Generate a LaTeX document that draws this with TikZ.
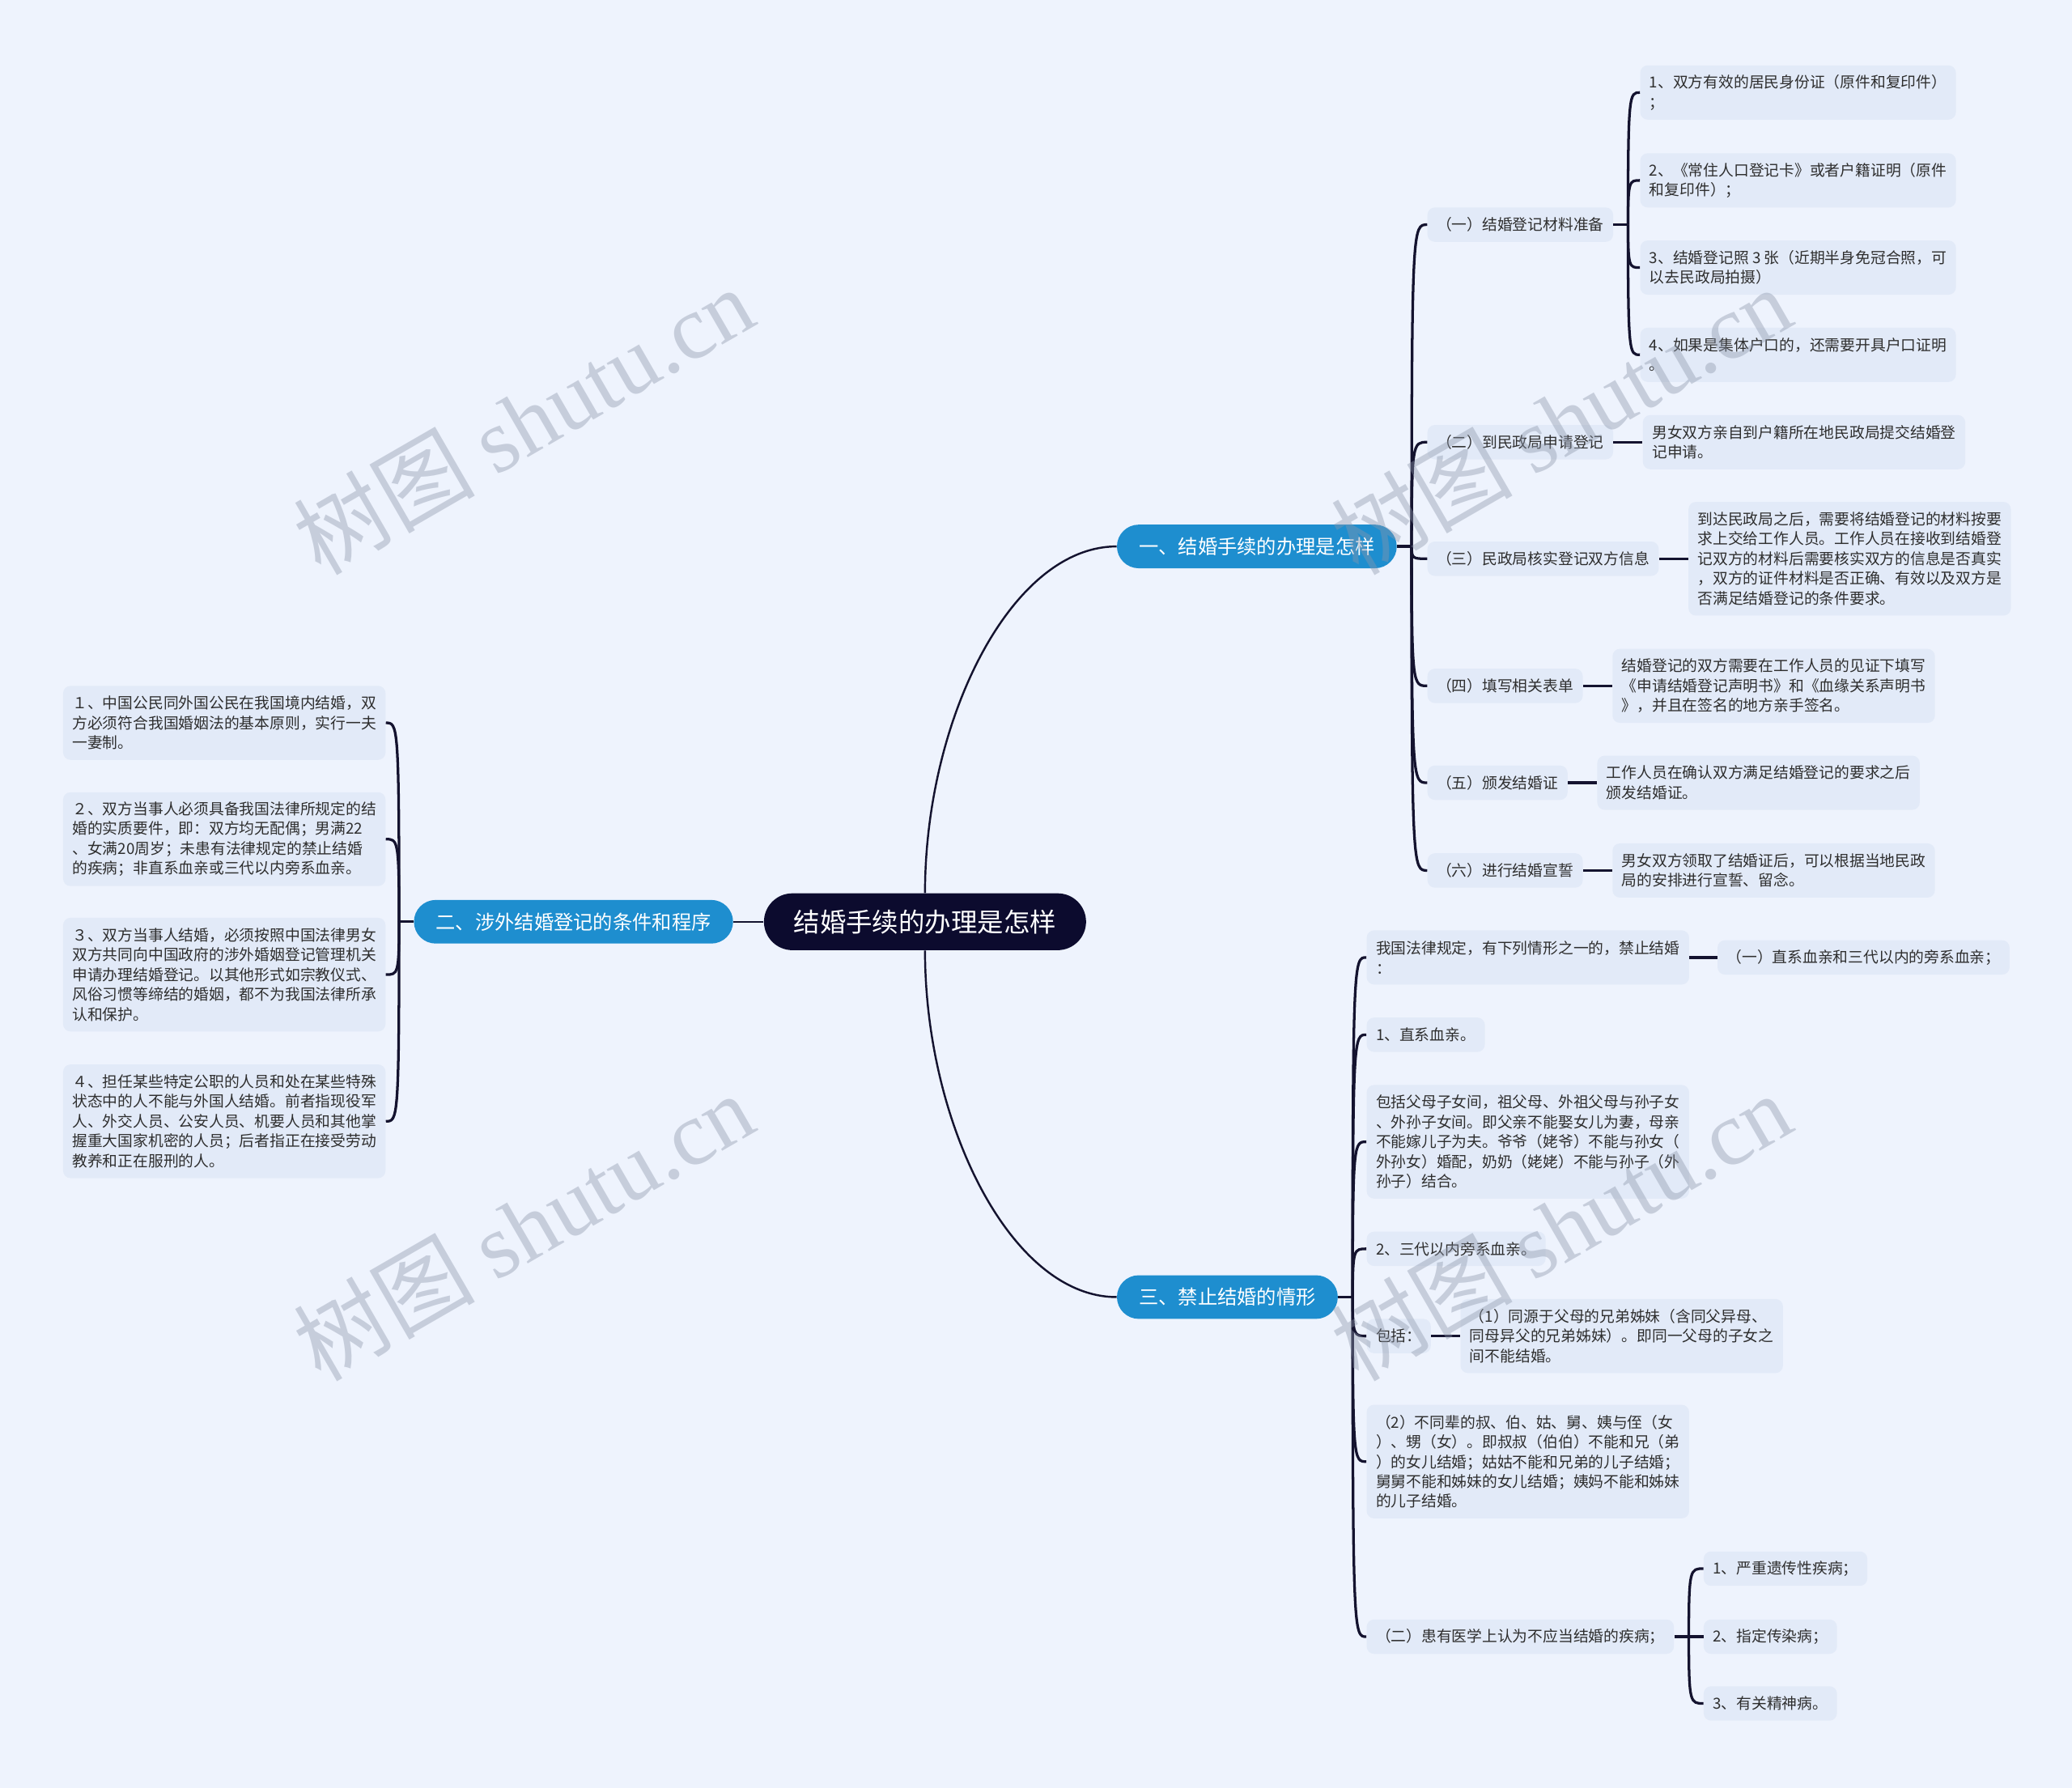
\documentclass[tikz,border=0pt]{standalone}
\usepackage{fontspec}
\setmainfont{Noto Sans CJK SC}
\newfontfamily\cjk{Noto Sans CJK SC}
\newfontfamily\wmlatin{Liberation Serif}
\usetikzlibrary{calc}
\definecolor{bgcol}{HTML}{EEF3FD}
\definecolor{boxcol}{HTML}{E2EAF8}
\definecolor{brcol}{HTML}{1E8ECF}
\definecolor{rootcol}{HTML}{0C0B2E}
\definecolor{linecol}{HTML}{14132F}
\definecolor{txtcol}{HTML}{2E2E2E}
\definecolor{wmcol}{HTML}{8C96AA}
\tikzset{
  conn/.style={draw=linecol, line width=1.6pt},
  mainconn/.style={draw=linecol, line width=1.2pt},
  leafbox/.style={fill=boxcol, rounded corners=4.5pt, inner xsep=5.6pt, inner ysep=2pt,
    align=left, text=txtcol, font=\fontsize{9.2}{12}\selectfont},
  n1/.style={minimum height=20.8pt},
  n2/.style={minimum height=32.8pt},
  n3/.style={minimum height=44.8pt},
  n4/.style={minimum height=56.8pt},
  n5/.style={minimum height=68.8pt},
  branch/.style={fill=brcol, text=white, rounded corners=13.2pt, minimum height=26.4pt,
    inner xsep=13.3pt, inner ysep=2pt, font=\fontsize{11.9}{14}\selectfont},
  rootbox/.style={fill=rootcol, text=white, rounded corners=17.2pt, minimum height=34.4pt,
    inner xsep=18pt, inner ysep=2pt, font=\fontsize{15.9}{18}\selectfont},
  wm/.style={text=wmcol, opacity=0.4, rotate=30, inner sep=0pt, font=\fontsize{55}{55}\selectfont}
}
\begin{document}
\begin{tikzpicture}[x=0.8pt, y=-0.8pt]
\fill[bgcol] (0,0) rectangle (1568,1353);
\useasboundingbox (0,0) rectangle (1568,1353);

% root and main branches
\node[rootbox] (root) at (700,697.5) {结婚手续的办理是怎样};
\node[branch, anchor=west] (b1) at (845,413.5) {一、结婚手续的办理是怎样};
\node[branch, anchor=east] (b2) at (555,697.5) {二、涉外结婚登记的条件和程序};
\node[branch, anchor=west] (b3) at (845,981.5) {三、禁止结婚的情形};

\draw[mainconn] (root.north) .. controls ($(root.north)+(0,-131)$) and ($(b1.west)+(-80,0)$) .. (b1.west);
\draw[mainconn] (root.south) .. controls ($(root.south)+(0,131)$) and ($(b3.west)+(-80,0)$) .. (b3.west);
\draw[mainconn] (root.west) -- (b2.east);

% ---------- branch 1 ----------
\node[leafbox, n1, anchor=west] (c11) at (1080,170) {（一）结婚登记材料准备};
\node[leafbox, n1, anchor=west] (c12) at (1080,334.6) {（二）到民政局申请登记};
\node[leafbox, n1, anchor=west] (c13) at (1080,422.8) {（三）民政局核实登记双方信息};
\node[leafbox, n1, anchor=west] (c14) at (1080,519) {（四）填写相关表单};
\node[leafbox, n1, anchor=west] (c15) at (1080,592.3) {（五）颁发结婚证};
\node[leafbox, n1, anchor=west] (c16) at (1080,658.7) {（六）进行结婚宣誓};

\coordinate (j1) at ($(b1.east)+(11,0)$);
\draw[conn] (b1.east) -- (j1);
\foreach \c in {c11,c12,c13,c14,c15,c16}{
  \draw[conn] (j1) .. controls (j1 |- \c.west) and ($(j1 |- \c.west)+(1,0)$) .. (\c.west);
}

\node[leafbox, n2, anchor=west] (l111) at ($(c11.east |- 0,70)+(20,0)$) {1、双方有效的居民身份证（原件和复印件）\\；};
\node[leafbox, n2, anchor=west] (l112) at ($(c11.east |- 0,136.5)+(20,0)$) {2、《常住人口登记卡》或者户籍证明（原件\\和复印件）；};
\node[leafbox, n2, anchor=west] (l113) at ($(c11.east |- 0,202.5)+(20,0)$) {3、结婚登记照 3 张（近期半身免冠合照，可\\以去民政局拍摄）};
\node[leafbox, n2, anchor=west] (l114) at ($(c11.east |- 0,268.5)+(20,0)$) {4、如果是集体户口的，还需要开具户口证明\\。};
\coordinate (jc11) at ($(c11.east)+(11,0)$);
\draw[conn] (c11.east) -- (jc11);
\foreach \c in {l111,l112,l113,l114}{
  \draw[conn] (jc11) .. controls (jc11 |- \c.west) and ($(jc11 |- \c.west)+(1,0)$) .. (\c.west);
}

\node[leafbox, n2, anchor=west] (l12) at ($(c12.east)+(22,0)$) {男女双方亲自到户籍所在地民政局提交结婚登\\记申请。};
\node[leafbox, n5, anchor=west] (l13) at ($(c13.east)+(22,0)$) {到达民政局之后，需要将结婚登记的材料按要\\求上交给工作人员。工作人员在接收到结婚登\\记双方的材料后需要核实双方的信息是否真实\\，双方的证件材料是否正确、有效以及双方是\\否满足结婚登记的条件要求。};
\node[leafbox, n3, anchor=west] (l14) at ($(c14.east)+(22,0)$) {结婚登记的双方需要在工作人员的见证下填写\\《申请结婚登记声明书》和《血缘关系声明书\\》，并且在签名的地方亲手签名。};
\node[leafbox, n2, anchor=west] (l15) at ($(c15.east)+(22,0)$) {工作人员在确认双方满足结婚登记的要求之后\\颁发结婚证。};
\node[leafbox, n2, anchor=west] (l16) at ($(c16.east)+(22,0)$) {男女双方领取了结婚证后，可以根据当地民政\\局的安排进行宣誓、留念。};
\draw[conn] (c12.east) -- (l12.west);
\draw[conn] (c13.east) -- (l13.west);
\draw[conn] (c14.east) -- (l14.west);
\draw[conn] (c15.east) -- (l15.west);
\draw[conn] (c16.east) -- (l16.west);

% ---------- branch 2 ----------
\node[leafbox, n3, anchor=east] (a1) at (292,547) {１、中国公民同外国公民在我国境内结婚，双\\方必须符合我国婚姻法的基本原则，实行一夫\\一妻制。};
\node[leafbox, n4, anchor=east] (a2) at (292,635) {２、双方当事人必须具备我国法律所规定的结\\婚的实质要件，即：双方均无配偶；男满22\\、女满20周岁；未患有法律规定的禁止结婚\\的疾病；非直系血亲或三代以内旁系血亲。};
\node[leafbox, n5, anchor=east] (a3) at (292,737.5) {３、双方当事人结婚，必须按照中国法律男女\\双方共同向中国政府的涉外婚姻登记管理机关\\申请办理结婚登记。以其他形式如宗教仪式、\\风俗习惯等缔结的婚姻，都不为我国法律所承\\认和保护。};
\node[leafbox, n5, anchor=east] (a4) at (292,848.5) {４、担任某些特定公职的人员和处在某些特殊\\状态中的人不能与外国人结婚。前者指现役军\\人、外交人员、公安人员、机要人员和其他掌\\握重大国家机密的人员；后者指正在接受劳动\\教养和正在服刑的人。};
\coordinate (j2) at ($(b2.west)+(-11,0)$);
\draw[conn] (b2.west) -- (j2);
\foreach \c in {a1,a2,a3,a4}{
  \draw[conn] (j2) .. controls (j2 |- \c.east) and ($(j2 |- \c.east)+(-1,0)$) .. (\c.east);
}

% ---------- branch 3 ----------
\node[leafbox, n2, anchor=west] (d1) at (1034,724.5) {我国法律规定，有下列情形之一的，禁止结婚\\：};
\node[leafbox, n1, anchor=west] (d2) at (1034,783) {1、直系血亲。};
\node[leafbox, n5, anchor=west] (d3) at (1034,864) {包括父母子女间，祖父母、外祖父母与孙子女\\、外孙子女间。即父亲不能娶女儿为妻，母亲\\不能嫁儿子为夫。爷爷（姥爷）不能与孙女（\\外孙女）婚配，奶奶（姥姥）不能与孙子（外\\孙子）结合。};
\node[leafbox, n1, anchor=west] (d4) at (1034,945) {2、三代以内旁系血亲。};
\node[leafbox, n1, anchor=west] (d5) at (1034,1011) {包括：};
\node[leafbox, n5, anchor=west] (d6) at (1034,1106) {（2）不同辈的叔、伯、姑、舅、姨与侄（女\\）、甥（女）。即叔叔（伯伯）不能和兄（弟\\）的女儿结婚；姑姑不能和兄弟的儿子结婚；\\舅舅不能和姊妹的女儿结婚；姨妈不能和姊妹\\的儿子结婚。};
\node[leafbox, n1, anchor=west] (d7) at (1034,1238.5) {（二）患有医学上认为不应当结婚的疾病；};
\coordinate (j3) at ($(b3.east)+(11,0)$);
\draw[conn] (b3.east) -- (j3);
\foreach \c in {d1,d2,d3,d4,d5,d6,d7}{
  \draw[conn] (j3) .. controls (j3 |- \c.west) and ($(j3 |- \c.west)+(1,0)$) .. (\c.west);
}

\node[leafbox, n1, anchor=west] (d1a) at ($(d1.east)+(21,0)$) {（一）直系血亲和三代以内的旁系血亲；};
\draw[conn] (d1.east) -- (d1a.west);
\node[leafbox, n3, anchor=west] (d5a) at ($(d5.east)+(22,0)$) {（1）同源于父母的兄弟姊妹（含同父异母、\\同母异父的兄弟姊妹）。即同一父母的子女之\\间不能结婚。};
\draw[conn] (d5.east) -- (d5a.west);

\node[leafbox, n1, anchor=west] (e1) at ($(d7.east |- 0,1187)+(22,0)$) {1、严重遗传性疾病；};
\node[leafbox, n1, anchor=west] (e2) at ($(d7.east |- 0,1238.5)+(22,0)$) {2、指定传染病；};
\node[leafbox, n1, anchor=west] (e3) at ($(d7.east |- 0,1289)+(22,0)$) {3、有关精神病。};
\coordinate (j7) at ($(d7.east)+(11,0)$);
\draw[conn] (d7.east) -- (j7);
\foreach \c in {e1,e2,e3}{
  \draw[conn] (j7) .. controls (j7 |- \c.west) and ($(j7 |- \c.west)+(1,0)$) .. (\c.west);
}

% ---------- watermarks ----------
\node[wm] (w1) at (396,318) {{\cjk 树图} {\wmlatin shutu.cn}};
\node[wm] (w2) at (1181,318) {{\cjk 树图} {\wmlatin shutu.cn}};
\node[wm] (w3) at (396,928) {{\cjk 树图} {\wmlatin shutu.cn}};
\node[wm] (w4) at (1181,928) {{\cjk 树图} {\wmlatin shutu.cn}};
\end{tikzpicture}
\end{document}
